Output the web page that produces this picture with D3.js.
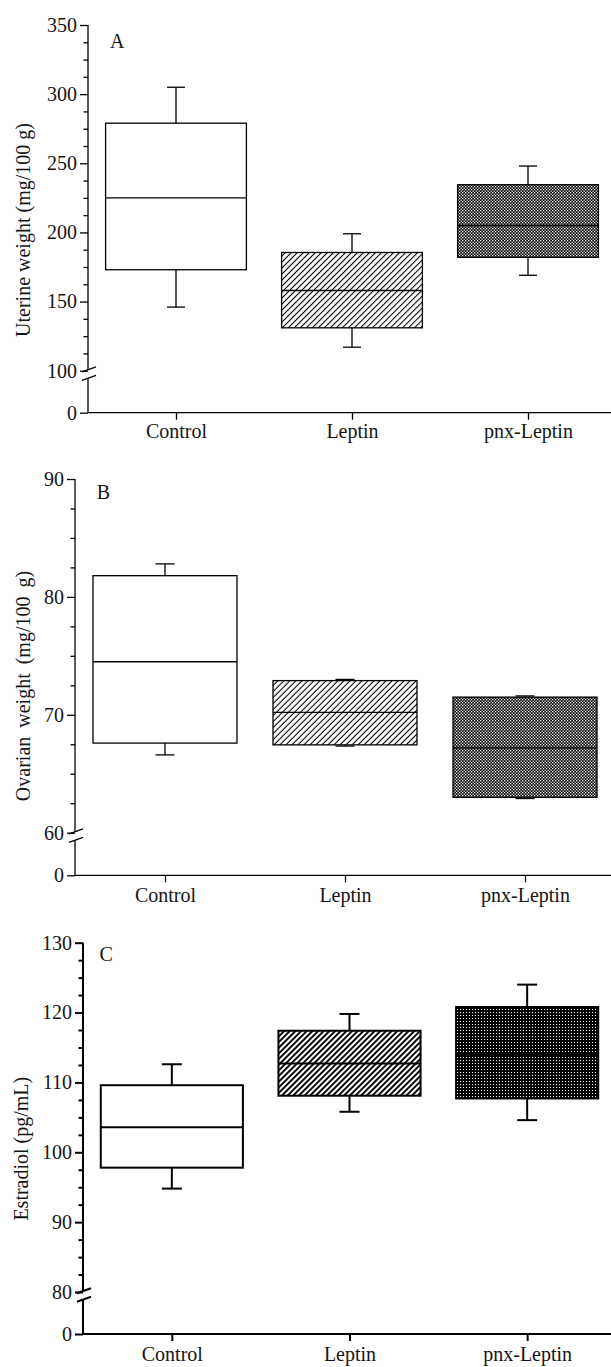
<!DOCTYPE html>
<html>
<head>
<meta charset="utf-8">
<script src="https://cdn.jsdelivr.net/npm/d3@7"></script>
<style>
body { margin: 0; background: #fff; }
svg { display: block; }
</style>
</head>
<body>
<div id="chart"></div>
<script>
var GROUPS = ["Control", "Leptin", "pnx-Leptin"];
// each row: [whisker low, box low, median, box high, whisker high]
var UTERINE = [[146, 173, 225, 279, 305], [117, 131, 158, 185.5, 199], [169, 182, 205, 234.5, 248]];
var OVARIAN = [[66.6, 67.6, 74.5, 81.8, 82.8], [67.35, 67.45, 70.2, 72.9, 73.0], [62.9, 63.0, 67.2, 71.5, 71.6]];
var ESTRADIOL = [[94.8, 97.8, 103.6, 109.6, 112.6], [105.8, 108.1, 112.7, 117.4, 119.8], [104.6, 107.7, 114.0, 120.8, 124.0]];
var UTERINE_TICKS = [0, 100, 150, 200, 250, 300, 350];
var OVARIAN_TICKS = [0, 60, 70, 80, 90];
var ESTRADIOL_TICKS = [0, 80, 90, 100, 110, 120, 130];

var FONT = "'Liberation Serif', 'Times New Roman', 'DejaVu Serif', serif";
var W = 611, H = 1367;
var svg = d3.select("#chart").append("svg").attr("width", W).attr("height", H)
    .style("font-family", FONT);
var defs = svg.append("defs");

function hatch(id, size, sw) {
    var p = defs.append("pattern").attr("id", id).attr("patternUnits", "userSpaceOnUse")
        .attr("width", size).attr("height", size).attr("patternTransform", "rotate(45)");
    p.append("rect").attr("width", size).attr("height", size).attr("fill", "#fff");
    p.append("line").attr("x1", size / 2).attr("x2", size / 2).attr("y1", 0).attr("y2", size)
        .attr("stroke", "#000").attr("stroke-width", sw);
}
function checker(id, size, dot) {
    var p = defs.append("pattern").attr("id", id).attr("patternUnits", "userSpaceOnUse")
        .attr("width", size).attr("height", size);
    p.append("rect").attr("width", size).attr("height", size).attr("fill", "#000");
    p.append("rect").attr("x", 0).attr("y", 0).attr("width", dot).attr("height", dot).attr("fill", "#fff");
    p.append("rect").attr("x", size / 2).attr("y", size / 2).attr("width", dot).attr("height", dot).attr("fill", "#fff");
}
function dots(id, size, dot) {
    var p = defs.append("pattern").attr("id", id).attr("patternUnits", "userSpaceOnUse")
        .attr("width", size).attr("height", size);
    p.append("rect").attr("width", size).attr("height", size).attr("fill", "#000");
    p.append("rect").attr("x", (size - dot) / 2).attr("y", (size - dot) / 2)
        .attr("width", dot).attr("height", dot).attr("fill", "#fff");
}
hatch("hatchThin", 4.25, 1.1);
hatch("hatchBold", 4.0, 1.9);
checker("checker", 3, 1.3);
dots("dotted", 3, 1.05);

function drawPanel(c) {
    var g = svg.append("g");
    var y = d3.scaleLinear().domain([0, c.low, c.high]).range([c.zeroY, c.lowY, c.top]);
    var x = d3.scalePoint().domain(GROUPS).range([c.ax, c.xEnd]).padding(0.5);
    var bw = x.step() * 0.8;
    var minors = d3.range(c.low, c.high + 0.001, c.minor).filter(function(v) {
        return c.ticks.indexOf(v) < 0;
    });

    // y axis, major + minor ticks
    var ya = g.append("g").attr("transform", "translate(" + c.ax + ",0)")
        .call(d3.axisLeft(y).tickValues(c.ticks).tickSize(8).tickPadding(3).tickSizeOuter(0));
    ya.select(".domain").remove();
    ya.selectAll("text").style("font-size", "20px").style("font-family", FONT).attr("fill", "#151515");
    ya.selectAll("line").attr("stroke-width", c.sw);
    var ym = g.append("g").attr("transform", "translate(" + c.ax + ",0)")
        .call(d3.axisLeft(y).tickValues(minors).tickSize(4.5).tickFormat(""));
    ym.select(".domain").remove();
    ym.selectAll("line").attr("stroke-width", c.sw);

    // broken axis line
    var b1 = c.lowY - 1, b2 = c.lowY + 7.5;
    g.append("line").attr("x1", c.ax).attr("x2", c.ax).attr("y1", y(c.high)).attr("y2", b1)
        .attr("stroke", "#000").attr("stroke-width", c.sw);
    g.append("line").attr("x1", c.ax).attr("x2", c.ax).attr("y1", b2).attr("y2", c.zeroY)
        .attr("stroke", "#000").attr("stroke-width", c.sw);
    [b1, b2].forEach(function(by) {
        g.append("line").attr("x1", c.ax - 6).attr("y1", by + 2.2).attr("x2", c.ax + 8).attr("y2", by - 2.8)
            .attr("stroke", "#000").attr("stroke-width", c.sw);
    });

    // x axis
    var xa = g.append("g").attr("transform", "translate(0," + c.zeroY + ")")
        .call(d3.axisBottom(x).tickSize(7).tickPadding(c.xpad).tickSizeOuter(0));
    xa.select(".domain").remove();
    xa.selectAll("text").style("font-size", "20px").style("font-family", FONT).attr("fill", "#151515");
    xa.selectAll("line").attr("stroke-width", c.sw);
    g.append("line").attr("x1", c.ax).attr("x2", W).attr("y1", c.zeroY).attr("y2", c.zeroY)
        .attr("stroke", "#000").attr("stroke-width", c.sw);

    // boxes
    var boxes = g.selectAll(".bx").data(c.data).enter().append("g");
    boxes.append("line")
        .attr("x1", function(d, i) { return x(GROUPS[i]); })
        .attr("x2", function(d, i) { return x(GROUPS[i]); })
        .attr("y1", function(d) { return y(d[0]); })
        .attr("y2", function(d) { return y(d[4]); })
        .attr("stroke", "#000").attr("stroke-width", c.sw);
    [0, 4].forEach(function(k) {
        boxes.append("line")
            .attr("x1", function(d, i) { return x(GROUPS[i]) - c.cap / 2; })
            .attr("x2", function(d, i) { return x(GROUPS[i]) + c.cap / 2; })
            .attr("y1", function(d) { return y(d[k]); })
            .attr("y2", function(d) { return y(d[k]); })
            .attr("stroke", "#000").attr("stroke-width", c.sw);
    });
    boxes.append("rect")
        .attr("x", function(d, i) { return x(GROUPS[i]) - bw / 2; })
        .attr("y", function(d) { return y(d[3]); })
        .attr("width", bw)
        .attr("height", function(d) { return y(d[1]) - y(d[3]); })
        .attr("fill", function(d, i) { return c.fills[i]; })
        .attr("stroke", "#000").attr("stroke-width", c.sw);
    boxes.append("line")
        .attr("x1", function(d, i) { return x(GROUPS[i]) - bw / 2; })
        .attr("x2", function(d, i) { return x(GROUPS[i]) + bw / 2; })
        .attr("y1", function(d) { return y(d[2]); })
        .attr("y2", function(d) { return y(d[2]); })
        .attr("stroke", "#000").attr("stroke-width", c.sw);

    // labels
    g.append("text").attr("transform", "translate(" + c.labelX + "," + c.labelY + ") rotate(-90)")
        .attr("text-anchor", "middle").attr("dy", "0.35em")
        .style("font-size", "20px").style("font-family", FONT).attr("fill", "#151515")
        .style("word-spacing", c.wsp + "px").text(c.label);
    g.append("text").attr("x", c.letterX).attr("y", c.letterY)
        .style("font-size", "20px").style("font-family", FONT).attr("fill", "#151515").text(c.letter);
}

drawPanel({data: UTERINE, ticks: UTERINE_TICKS, low: 100, high: 350, minor: 12.5,
    ax: 88, xEnd: 616, top: 25, lowY: 370.7, zeroY: 412.7, xpad: 4, sw: 1.3, cap: 18,
    fills: ["#fff", "url(#hatchThin)", "url(#checker)"],
    label: "Uterine weight (mg/100 g)", labelX: 22.7, labelY: 230, wsp: 0,
    letter: "A", letterX: 110, letterY: 48});
drawPanel({data: OVARIAN, ticks: OVARIAN_TICKS, low: 60, high: 90, minor: 2.5,
    ax: 75, xEnd: 615, top: 479, lowY: 832.7, zeroY: 875.3, xpad: 6, sw: 1.3, cap: 19,
    fills: ["#fff", "url(#hatchThin)", "url(#checker)"],
    label: "Ovarian weight (mg/100 g)", labelX: 23.4, labelY: 686, wsp: 4,
    letter: "B", letterX: 96.7, letterY: 499});
drawPanel({data: ESTRADIOL, ticks: ESTRADIOL_TICKS, low: 80, high: 130, minor: 2.5,
    ax: 83, xEnd: 616, top: 942.7, lowY: 1292, zeroY: 1334, xpad: 6, sw: 2, cap: 20,
    fills: ["#fff", "url(#hatchBold)", "url(#dotted)"],
    label: "Estradiol (pg/mL)", labelX: 21.4, labelY: 1148.7, wsp: 0,
    letter: "C", letterX: 99.4, letterY: 961});
</script>
</body>
</html>
